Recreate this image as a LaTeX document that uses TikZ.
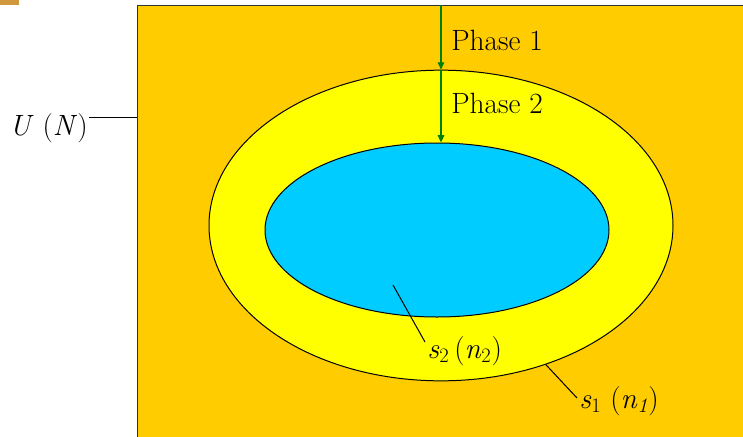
\documentclass[tikz,border=0pt]{standalone}
\usetikzlibrary{arrows.meta,positioning,shapes.geometric}
\definecolor{univorange}{HTML}{FFCC00}
\definecolor{phaseyellow}{HTML}{FFFF00}
\definecolor{setcyan}{HTML}{00CCFF}
\definecolor{arrowgreen}{HTML}{008000}
\definecolor{iconbrown}{HTML}{D2963C}

\begin{document}
\begin{tikzpicture}[x=0.75pt,y=-0.75pt,
 setshape/.style={ellipse,draw=black,line width=0.75pt,inner sep=0pt},
 settext/.style={font=\fontsize{22}{26}\selectfont,inner sep=0pt,anchor=base west},
 phasearrow/.style={draw=arrowgreen,line width=0.8pt,-{Triangle[length=5.5pt,width=5pt]}},
 leader/.style={draw=black,line width=0.75pt}]
\useasboundingbox (0,0) rectangle (743,436);
\fill[iconbrown] (0,0) rectangle (19,5);
\node[draw=black!80,line width=1pt,fill=univorange,anchor=north west,inner sep=0pt,
 minimum width=467pt,minimum height=334pt] (univ) at (137,5) {};
\node[setshape,fill=phaseyellow,minimum width=348pt,minimum height=233pt] (outer) at (441,225.5) {};
\node[setshape,fill=setcyan,minimum width=258pt,minimum height=130.5pt] (inner) at (437,230) {};

\draw[phasearrow] (univ.north -| outer.north) -- (outer.north);
\draw[phasearrow] (outer.north) -- (outer.north |- inner.north);
\node[settext] (phaseone) at (451,50) {Phase 1};
\node[settext] (phasetwo) at (451,113) {Phase 2};

\node[settext] (ulabel) at (9,135) {\textit{U} (\textit{N})};
\draw[leader] (89,117) -- (univ.west |- 89,117);

\node[settext] (stwo) at (427,358) {\textit{s}\textsubscript{2}\,(\textit{n}\textsubscript{2})};
\coordinate (stwoend) at (393,285);
\draw[leader] (stwoend) -- (425,342);

\node[settext] (sone) at (579,408) {\textit{s}\textsubscript{1} (\textit{n}\textsubscript{\textit{1}})};
\draw[leader] (outer.-53) -- (577,398);
\end{tikzpicture}
\end{document}
